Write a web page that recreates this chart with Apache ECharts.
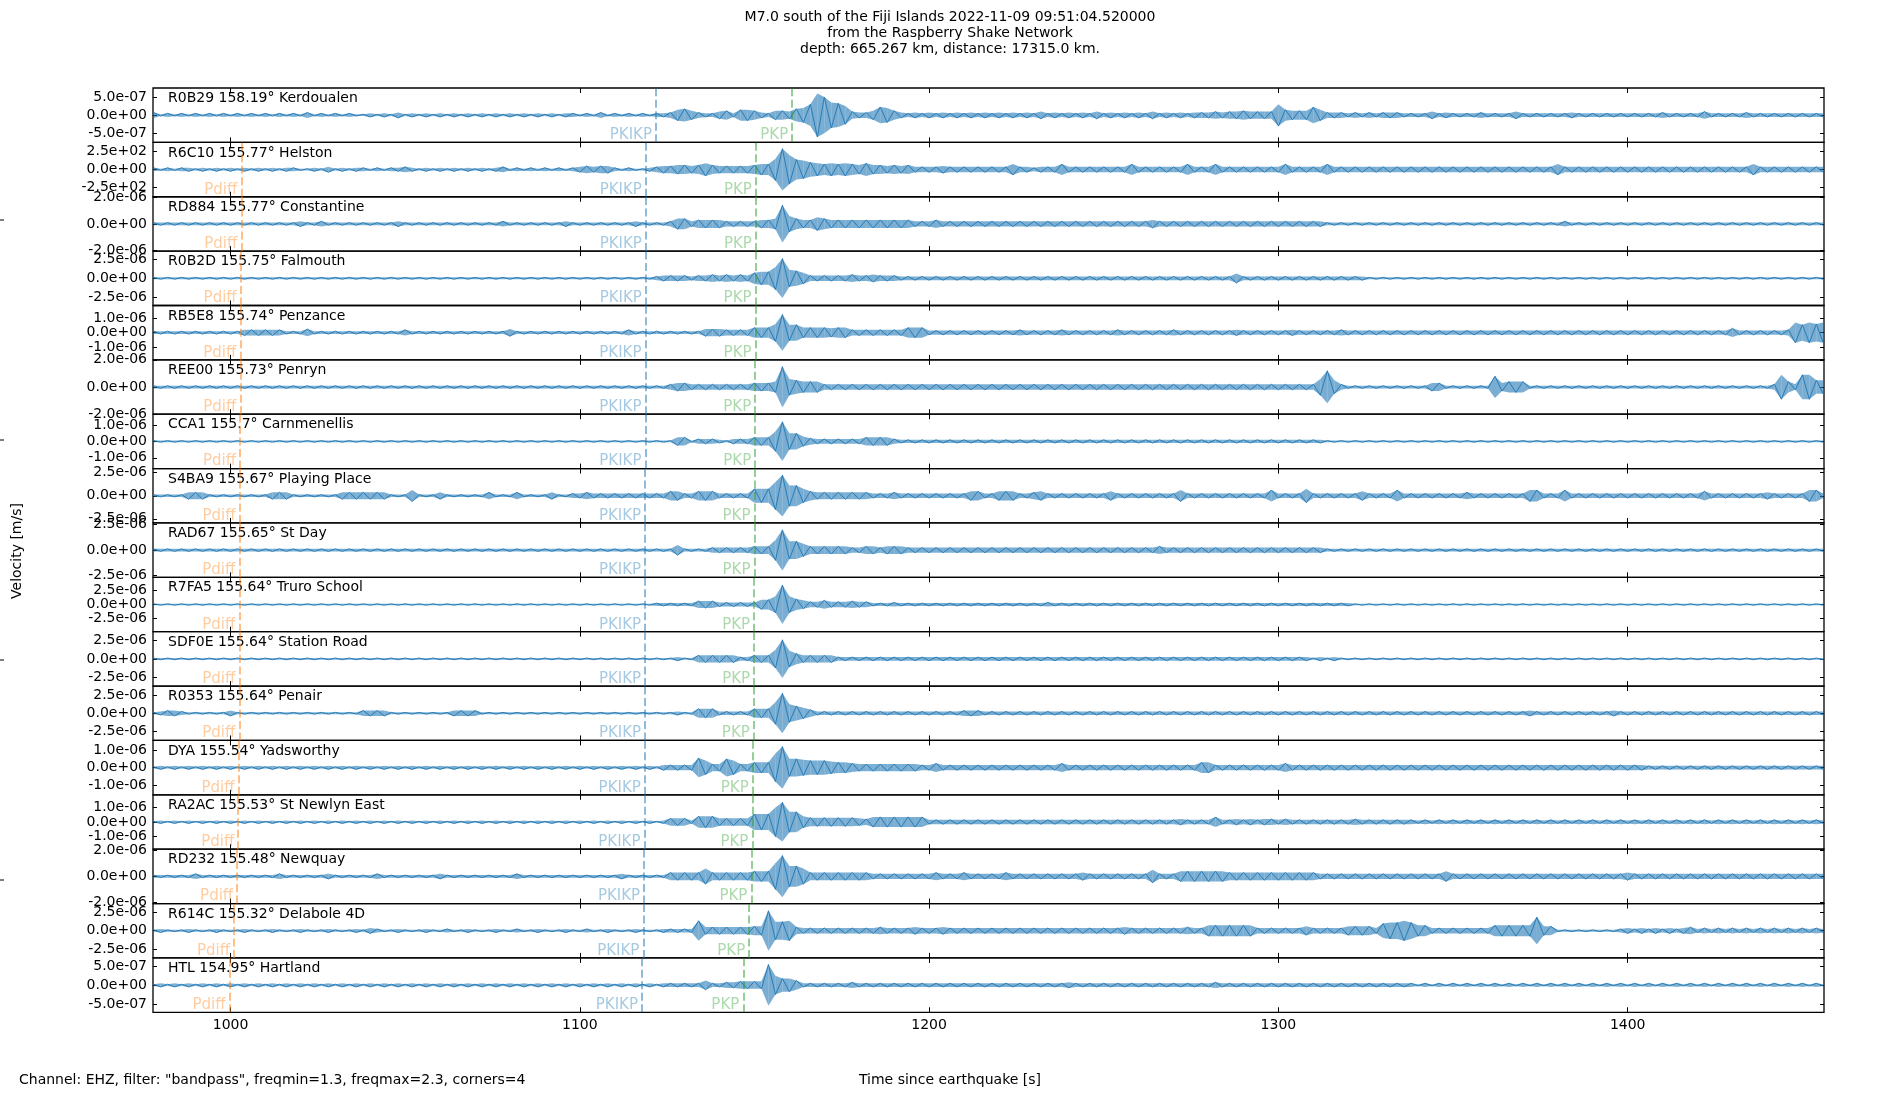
<!DOCTYPE html>
<html lang="en">
<head>
    <meta charset="UTF-8">
    <title>M7.0 south of the Fiji Islands</title>
    <script src="https://cdn.jsdelivr.net/npm/echarts@6/dist/echarts.min.js"></script>
    <style type="text/css">
        html, body { margin: 0; padding: 0; background: #fff; }
        #box { width: 1900px; height: 1100px; }
    </style>
</head>
<body>
    <div id="box"></div>
<script>
    // stations, top to bottom
    var stations = ['R0B29', 'R6C10', 'RD884', 'R0B2D', 'RB5E8', 'REE00', 'CCA1', 'S4BA9', 'RAD67',
        'R7FA5', 'SDF0E', 'R0353', 'DYA', 'RA2AC', 'RD232', 'R614C', 'HTL'];
    var distances = ['158.19', '155.77', '155.77', '155.75', '155.74', '155.73', '155.7', '155.67', '155.65',
        '155.64', '155.64', '155.64', '155.54', '155.53', '155.48', '155.32', '154.95'];
    var places = ['Kerdoualen', 'Helston', 'Constantine', 'Falmouth', 'Penzance', 'Penryn', 'Carnmenellis',
        'Playing Place', 'St Day', 'Truro School', 'Station Road', 'Penair', 'Yadsworthy', 'St Newlyn East',
        'Newquay', 'Delabole 4D', 'Hartland'];

    // y tick value and y limit of each panel
    var tickValues = [5e-7, 250, 2e-6, 2.5e-6, 1e-6, 2e-6, 1e-6, 2.5e-6, 2.5e-6,
        2.5e-6, 2.5e-6, 2.5e-6, 1e-6, 1e-6, 2e-6, 2.5e-6, 5e-7];
    var yLimits = [7.48e-7, 374, 2.04e-6, 3.62e-6, 1.87e-6, 2.0e-6, 1.66e-6, 2.95e-6, 2.67e-6,
        4.88e-6, 3.74e-6, 3.74e-6, 1.55e-6, 1.87e-6, 2.09e-6, 3.74e-6, 7.24e-7];

    // phase arrivals [s]
    var pdiffTimes = [null, 1003.1, 1003.1, 1002.9, 1002.8, 1002.8, 1002.7, 1002.6, 1002.5,
        1002.5, 1002.5, 1002.5, 1002.3, 1002.2, 1001.9, 1001.0, 999.7];
    var pkikpTimes = [1121.8, 1118.9, 1118.9, 1118.9, 1118.8, 1118.8, 1118.8, 1118.7, 1118.7,
        1118.7, 1118.7, 1118.7, 1118.6, 1118.5, 1118.4, 1118.2, 1117.8];
    var pkpTimes = [1160.8, 1150.4, 1150.4, 1150.3, 1150.3, 1150.2, 1150.2, 1150.0, 1150.0,
        1149.9, 1149.9, 1149.8, 1149.5, 1149.4, 1149.1, 1148.5, 1146.8];

    var xTicks = [1000, 1100, 1200, 1300, 1400];
    var XMIN = 977.8, XMAX = 1456.2;

    // amplitude envelope of each trace, one char per 2 s starting at 978 s
    // (base 36, 20 = one tick value)
    var T0 = 978, DT = 2;
    var envelopes = [
        // R0B29
        '31212 12121 21212 12121 21312 12121 12121 31212 12121 21212 12121 21212 ' +
        '21213 12121 21223 67532 24526 65325 5478c okeda 43359 85323 23232 32323 ' +
        '23232 32423 23232 42323 23242 32323 33434 45444 4c655 59633 32323 23332 ' +
        '22242 32222 32222 42222 22232 22222 22222 23222 22422 22232 22222 22222',
        // R6C10
        '21212 21212 12121 21212 21121 31212 21212 23212 12121 21212 31212 12121 ' +
        '23434 42121 12344 55457 54444 4566c ngba8 76767 65755 45453 33343 33333 ' +
        '33363 32333 63333 33333 63333 33363 33633 33333 33633 33363 33333 33333 ' +
        '33333 33333 33333 33333 36333 33333 33333 33333 33333 33336 33333 33333',
        // RD884
        '11111 11111 11111 11111 12112 11111 11111 21111 11111 11111 21111 11112 ' +
        '11111 11112 11112 44233 33222 22334 e6433 54333 33333 33332 22322 22222 ' +
        '22222 22222 22222 22222 22232 22222 22222 22222 22222 22211 11111 11111 ' +
        '11111 11111 11111 11111 11211 11111 11111 11111 11111 11111 11111 11111',
        // R0B2D
        '11111 11111 11111 11111 11111 11111 11111 11111 11111 11111 11111 11111 ' +
        '11111 11111 11233 33233 43434 3677c l9863 33333 43343 33222 22222 22222 ' +
        '22222 22222 22222 22222 22222 22222 22222 52222 22222 22222 22221 11111 ' +
        '11111 11111 11111 11111 11111 11111 11111 11111 11111 11111 11111 11111',
        // RB5E8
        '22222 22222 22244 44442 22522 22222 22222 24222 22222 22222 25222 22222 ' +
        '22222 22242 22222 22225 55444 4777c pbb77 77677 44444 44477 73333 33333 ' +
        '33334 33333 43333 33343 33333 34333 33333 43333 33343 33333 43333 33333 ' +
        '33333 33333 33333 33333 33333 33333 33333 33333 33333 36333 33334 ebece',
        // REE00
        '11111 11111 11111 11111 11111 11111 11111 11111 11111 11111 11111 11111 ' +
        '11111 11111 11112 33222 22222 23334 f6544 42222 22222 22222 22222 22222 ' +
        '22222 22222 22222 22222 22222 22222 22222 22222 22222 226c5 21111 11111 ' +
        '11133 11111 11834 44111 11111 11111 11111 11111 11111 11111 11294 29955',
        // CCA1
        '11111 11111 11111 11111 11111 11111 11111 11111 11111 11111 11111 11111 ' +
        '11111 11111 11111 55133 32133 3555c oaa64 33333 33555 53222 22222 22222 ' +
        '22222 22222 22222 22222 22222 22222 22222 22222 22222 22211 11111 11111 ' +
        '11111 11111 11111 11111 11111 11111 11111 11111 11111 11111 11111 11111',
        // S4BA9
        '11111 33311 11111 11333 11111 11333 33331 11511 13111 11131 11311 11311 ' +
        '22322 22222 22224 42244 42222 2666c i9964 33333 33322 23222 22222 22442 ' +
        '24442 23422 22222 22422 22222 22522 22222 22222 52222 62222 22242 22252 ' +
        '22222 22232 22222 22552 22522 22222 22222 22222 22422 22222 23222 22552',
        // RAD67
        '11111 11111 11111 11111 11111 11111 11111 11111 11111 11111 11111 11111 ' +
        '11111 11111 11111 41111 22222 23338 g7753 33333 22332 33322 22222 22222 ' +
        '22222 22222 22222 22222 22223 22222 22222 22222 22222 22211 11111 11111 ' +
        '11111 11111 11111 11111 11111 11111 11111 11111 11111 11111 11111 11111',
        // R7FA5
        '11111 11111 11111 11111 11111 11111 11111 11111 11111 11111 11111 11111 ' +
        '11111 11111 11222 22255 53333 3377c sc864 46444 54422 23222 22222 22222 ' +
        '22222 22232 22222 22222 22222 22222 22222 22222 22222 22222 22111 11111 ' +
        '11111 11111 11111 11111 11111 11111 11111 11111 11111 11111 11111 11111',
        // SDF0E
        '11111 11111 11111 11111 11111 11111 11111 11111 11111 11111 11111 11111 ' +
        '11111 11111 11111 21144 44442 2444a l9644 44422 22222 22222 22222 22222 ' +
        '22222 22222 22222 22222 22222 22222 22222 22222 22222 21212 11111 11111 ' +
        '11111 11111 11111 11111 11111 11111 11111 11111 11111 11111 11111 11111',
        // R0353
        '12332 11111 13111 11111 11111 11111 33331 11111 11133 33111 11111 11111 ' +
        '11111 11111 11111 21155 52222 2555c ma864 22222 22222 22222 22222 23332 ' +
        '22222 22222 22222 22222 22222 22222 22222 22222 22222 22222 22222 22222 ' +
        '22222 22222 22222 22322 22222 22223 22222 22222 22222 22222 22222 22222',
        // DYA
        '12121 21212 12121 21212 12121 21212 12121 21212 12121 21212 12121 21212 ' +
        '12121 21212 12133 333b8 44a84 4666g oaa98 88766 54444 44444 33533 33333 ' +
        '33333 33333 53333 33333 33333 33333 66333 33333 33533 33333 33333 33333 ' +
        '33333 33333 33333 33333 33333 33333 33332 22222 22222 22222 22222 22222',
        // RA2AC
        '12121 21212 12121 21212 12121 21212 12121 21212 12121 21212 12121 21212 ' +
        '12121 21212 12125 55288 85555 5bbbk ree86 66666 65477 77777 73333 33333 ' +
        '33333 33333 33333 33333 33333 33433 33733 43434 43433 33333 33433 33333 ' +
        '32323 23232 32323 23232 32323 23232 32323 23232 32323 23232 32323 23232',
        // RD232
        '11111 12111 11111 11121 11111 21111 11211 11111 12111 11111 11211 11111 ' +
        '11111 11211 11113 33336 33333 3444a g8863 33333 33322 22222 22322 23222 ' +
        '22322 22222 22232 22222 22252 22444 44443 33333 33333 33222 22222 22222 ' +
        '22222 42222 22222 22222 22222 22222 23222 22222 22222 22222 22222 22222',
        // R614C
        '12111 21112 11121 11211 12111 21112 13211 21112 11211 21112 11211 21112 ' +
        '11211 21112 11122 222b4 44444 455ma ab433 33333 33334 33334 33343 33333 ' +
        '33333 33333 33333 33334 33333 33343 36666 66633 33333 53333 35555 3899b ' +
        '96633 33333 33666 666f5 51111 11111 23232 32323 42323 23232 32323 23232',
        // HTL
        '12121 21212 12121 21212 12121 21212 12121 21212 12121 21212 12121 21212 ' +
        '12121 21212 12122 22225 22334 444ma 77522 22222 32222 22222 22222 22222 ' +
        '22222 22222 23222 22222 22222 22222 22322 22222 22222 22222 22222 22222 ' +
        '21212 12121 21212 12121 21212 12121 21212 12121 21212 12121 21212 12121'
    ];

    var FONT = 'DejaVu Sans';
    var GRID_LEFT = 153, GRID_RIGHT = 76, GRID_TOP = 88, PANEL_H = 54.37;
    var phaseColors = { Pdiff: 'rgba(255,127,14,0.5)', PKIKP: 'rgba(31,119,180,0.5)', PKP: 'rgba(44,160,44,0.5)' };

    function sci(v) {
        if (v === 0) return '0.0e+00';
        var parts = v.toExponential(1).split('e');
        var ex = parseInt(parts[1], 10);
        var a = Math.abs(ex);
        return parts[0] + 'e' + (ex < 0 ? '-' : '+') + (a < 10 ? '0' + a : a);
    }

    // each item: light band between +/- envelope up to the next sample,
    // with a stroke swinging from one side to the other on top
    function traceRenderer(pts) {
        return function (params, api) {
            var k = params.dataIndex;
            if (k >= pts.length - 1) return null;
            var s = k % 2 ? -1 : 1;
            var p0 = api.coord([pts[k][0], pts[k][1]]);
            var p1 = api.coord([pts[k + 1][0], pts[k + 1][1]]);
            var q1 = api.coord([pts[k + 1][0], -pts[k + 1][1]]);
            var q0 = api.coord([pts[k][0], -pts[k][1]]);
            var a = api.coord([pts[k][0], s * pts[k][1]]);
            var b = api.coord([pts[k + 1][0], -s * pts[k + 1][1]]);
            return {
                type: 'group',
                children: [
                    { type: 'polygon', shape: { points: [p0, p1, q1, q0] },
                        style: { fill: 'rgba(31,119,180,0.6)' } },
                    { type: 'line', shape: { x1: a[0], y1: a[1], x2: b[0], y2: b[1] },
                        style: { stroke: '#1f77b4', lineWidth: 0.9 } }
                ]
            };
        };
    }

    function buildOption() {
        var grids = [], xAxes = [], yAxes = [], series = [], graphics = [];
        for (var i = 0; i < stations.length; i++) {
            var panelTop = GRID_TOP + i * PANEL_H;
            var tk = tickValues[i], yl = yLimits[i];
            var yTicks = [-tk, 0, tk];
            grids.push({ left: GRID_LEFT, right: GRID_RIGHT, top: panelTop, height: PANEL_H,
                show: true, borderColor: '#000', borderWidth: 1.3 });
            var xt = { show: true, inside: true, length: 5, customValues: xTicks, lineStyle: { color: '#000', width: 1 } };
            var yt = { show: true, inside: true, length: 4, customValues: yTicks, lineStyle: { color: '#000', width: 1 } };
            xAxes.push({ gridIndex: i, type: 'value', position: 'bottom', min: XMIN, max: XMAX,
                axisLine: { show: false, onZero: false }, splitLine: { show: false }, axisTick: xt,
                axisLabel: { show: i === stations.length - 1, customValues: xTicks, margin: 6,
                    formatter: function (v) { return String(v); },
                    color: '#000', fontSize: 14, fontFamily: FONT } });
            xAxes.push({ gridIndex: i, type: 'value', position: 'top', min: XMIN, max: XMAX,
                axisLine: { show: false, onZero: false }, splitLine: { show: false }, axisTick: xt,
                axisLabel: { show: false } });
            yAxes.push({ gridIndex: i, type: 'value', position: 'left', min: -yl, max: yl,
                axisLine: { show: false, onZero: false }, splitLine: { show: false }, axisTick: yt,
                axisLabel: { show: true, customValues: yTicks, formatter: sci, margin: 6,
                    color: '#000', fontSize: 14, fontFamily: FONT } });
            yAxes.push({ gridIndex: i, type: 'value', position: 'right', min: -yl, max: yl,
                axisLine: { show: false, onZero: false }, splitLine: { show: false }, axisTick: yt,
                axisLabel: { show: false } });

            // trace envelope
            var lv = envelopes[i].replace(/\s+/g, '');
            var pts = [];
            for (var k = 0; k < lv.length; k++) {
                pts.push([T0 + k * DT, parseInt(lv.charAt(k), 36) * tk / 20]);
            }
            series.push({
                type: 'custom', xAxisIndex: 2 * i, yAxisIndex: 2 * i, data: pts,
                clip: true, silent: true, renderItem: traceRenderer(pts)
            });

            // phase markers
            var phases = [];
            if (pdiffTimes[i] !== null) phases.push(['Pdiff', pdiffTimes[i]]);
            phases.push(['PKIKP', pkikpTimes[i]]);
            phases.push(['PKP', pkpTimes[i]]);
            series.push({
                type: 'scatter', xAxisIndex: 2 * i, yAxisIndex: 2 * i, symbolSize: 0, silent: true,
                data: phases.map(function (p) {
                    return { name: p[0], value: [p[1], -0.74 * yl], label: { color: phaseColors[p[0]] } };
                }),
                label: { show: true, position: 'left', distance: 4, formatter: '{b}', fontSize: 15, fontFamily: FONT },
                markLine: { symbol: ['none', 'none'], silent: true, label: { show: false },
                    data: phases.map(function (p) {
                        return { xAxis: p[1], lineStyle: { color: phaseColors[p[0]], type: [8, 3.5], width: 2 } };
                    }) }
            });

            graphics.push({ type: 'text', left: 168, top: panelTop + 3.5, silent: true,
                style: { text: stations[i] + ' ' + distances[i] + '\u00b0 ' + places[i],
                    font: '14px "' + FONT + '"', fill: '#000' } });
        }

        graphics.push({ type: 'text', x: 17, y: 551, rotation: Math.PI / 2, silent: true,
            style: { text: 'Velocity [m/s]', font: '14px "' + FONT + '"', fill: '#000',
                textAlign: 'center', textVerticalAlign: 'middle' } });
        graphics.push({ type: 'text', x: 19, y: 1080, silent: true,
            style: { text: 'Channel: EHZ, filter: "bandpass", freqmin=1.3, freqmax=2.3, corners=4',
                font: '14px "' + FONT + '"', fill: '#000', textVerticalAlign: 'middle' } });
        graphics.push({ type: 'text', x: 950, y: 1080, silent: true,
            style: { text: 'Time since earthquake [s]', font: '14px "' + FONT + '"', fill: '#000',
                textAlign: 'center', textVerticalAlign: 'middle' } });
        // stray ticks of the hidden outer axes at the left edge
        [220, 440, 660, 880].forEach(function (y) {
            graphics.push({ type: 'line', silent: true, shape: { x1: 0, y1: y, x2: 4, y2: y },
                style: { stroke: '#000', lineWidth: 1 } });
        });

        return {
            animation: false,
            title: {
                text: 'M7.0 south of the Fiji Islands 2022-11-09 09:51:04.520000\nfrom the Raspberry Shake Network\ndepth: 665.267 km, distance: 17315.0 km.',
                left: 'center', top: 9, padding: 0,
                textStyle: { fontSize: 14, fontWeight: 'normal', lineHeight: 16, color: '#000', fontFamily: FONT }
            },
            grid: grids,
            xAxis: xAxes,
            yAxis: yAxes,
            series: series,
            graphic: graphics
        };
    }

    var mychart = echarts.init(document.getElementById('box'));
    mychart.setOption(buildOption());
</script>
</body>
</html>
